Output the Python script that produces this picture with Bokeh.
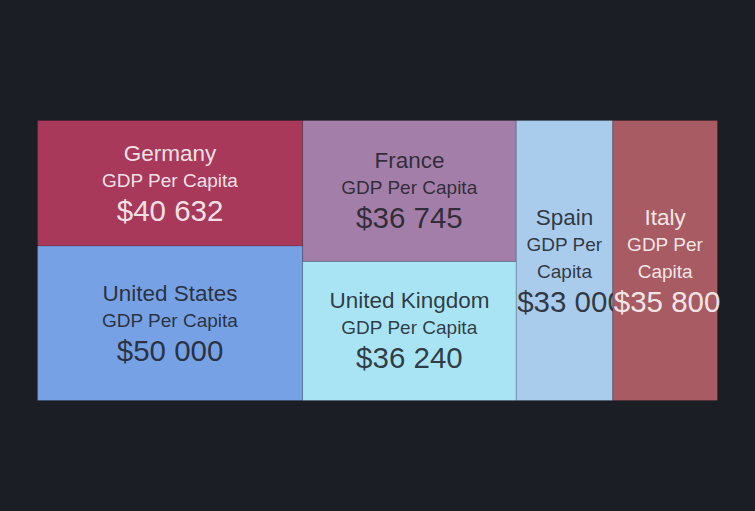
from bokeh.plotting import figure
from bokeh.models import ColumnDataSource, Range1d
from bokeh.core.properties import value
from bokeh.embed import file_html
from bokeh.resources import INLINE

# GDP per capita, USD
countries = ["Germany", "United States", "France", "United Kingdom", "Spain", "Italy"]
gdp = [40632, 50000, 36745, 36240, 33000, 35800]
colors = ["#a8395b", "#77a1e5", "#a37ea8", "#a9e4f5", "#a9cbec", "#a85b63"]
# which column of the treemap each country sits in (top to bottom inside a column)
columns = [["Germany", "United States"], ["France", "United Kingdom"], ["Spain"], ["Italy"]]
subtitle = "GDP Per Capita"

BG = "#1c1e26"
FONT = "Liberation Sans"
W, H = 739, 495
AREA_X, AREA_Y, AREA_W, AREA_H = 29, 112, 680, 280
NAME_PX, SUB_PX, VAL_PX = 22.5, 19, 29.5


def text_width(s, px):
    # rough Arial metrics
    wide = {"$": .556, " ": .278}
    return px * sum(wide.get(c, .556) for c in s)


def luminance(hex_color):
    r, g, b = (int(hex_color[i:i + 2], 16) for i in (1, 3, 5))
    return 0.299 * r + 0.587 * g + 0.114 * b


lookup = {c: (v, col) for c, v, col in zip(countries, gdp, colors)}
total = sum(gdp)

p = figure(width=W, height=H, x_range=Range1d(0, W), y_range=Range1d(H, 0),
           toolbar_location=None, output_backend="svg", min_border=0)
p.axis.visible = False
p.grid.visible = False
p.outline_line_color = None
p.background_fill_color = BG
p.border_fill_color = BG

x0 = AREA_X
for col in columns:
    col_sum = sum(lookup[c][0] for c in col)
    cw = AREA_W * col_sum / total
    y0 = AREA_Y
    for name in col:
        v, color = lookup[name]
        ch = AREA_H * v / col_sum
        p.quad(left=[x0], right=[x0 + cw], top=[y0], bottom=[y0 + ch],
               fill_color=color, line_color="#000000", line_alpha=0.15, line_width=1)

        sub_lines = [subtitle] if text_width(subtitle, SUB_PX) < cw - 10 else subtitle.rsplit(" ", 1)
        val_txt = "$" + f"{v:,}".replace(",", " ")
        lines = [name] + sub_lines + [val_txt]
        sizes = [NAME_PX] + [SUB_PX] * len(sub_lines) + [VAL_PX]
        gaps = [27] * len(sub_lines) + [30]
        block = sum(gaps)
        cx, cy = x0 + cw / 2, y0 + ch / 2
        ys = [cy - block / 2 - 1.5]
        for g in gaps:
            ys.append(ys[-1] + g)
        xs, aligns = [], []
        for t, s in zip(lines, sizes):
            if text_width(t, s) > cw:
                xs.append(x0 + 1)
                aligns.append("left")
            else:
                xs.append(cx)
                aligns.append("center")
        tc = "#ffffff" if luminance(color) < 128 else BG
        src = ColumnDataSource(dict(x=xs, y=ys, text=lines,
                                    size=[f"{s}px" for s in sizes], align=aligns))
        p.text(x="x", y="y", text="text", source=src, text_align="align",
               text_baseline="middle", text_font=value(FONT), text_font_size="size",
               text_color=tc, text_alpha=0.87)
        y0 += ch
    x0 += cw

html = file_html(p, INLINE)
page_css = f"<style>html, body {{ background-color: {BG}; }} body {{ padding: 8px; }}</style>"
html = html.replace("</head>", page_css + "</head>", 1)
open("out.html", "w").write(html)
